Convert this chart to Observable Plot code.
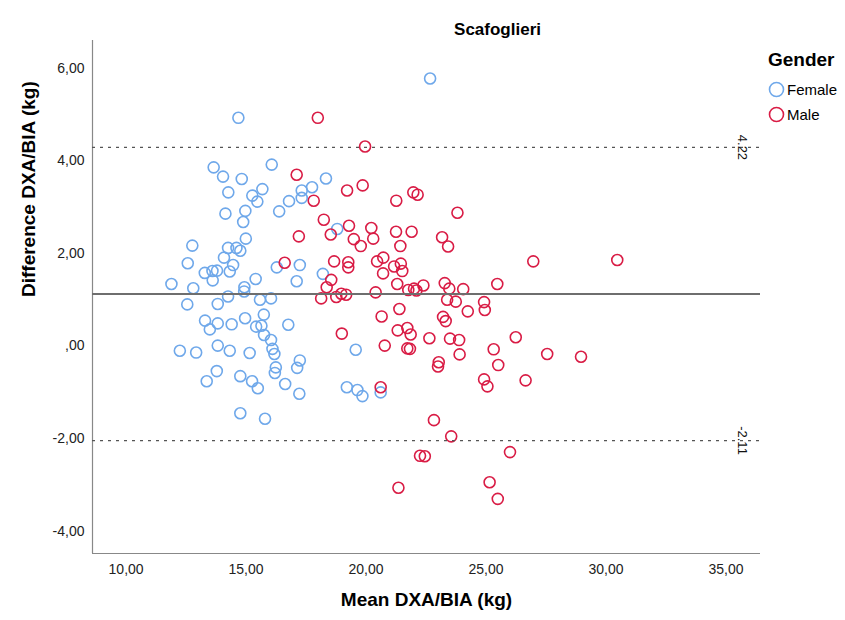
<!DOCTYPE html>
<html>
<head>
<meta charset="utf-8">
<script src="https://cdn.jsdelivr.net/npm/d3@7"></script>
<script src="https://cdn.jsdelivr.net/npm/@observablehq/plot@0.6"></script>
<style>
  body { margin: 0; background: #fff; }
  #wrap { position: relative; width: 845px; height: 620px; font-family: "Liberation Sans", Arial, sans-serif; }
  #legend { position: absolute; left: 768px; top: 49px; color: #000; }
  #legend .ttl { font-weight: bold; font-size: 19px; margin-bottom: 6px; }
  #legend .item { display: flex; align-items: center; font-size: 15px; height: 25px; }
  #legend svg { margin-right: 2px; }
</style>
</head>
<body>
<div id="wrap">
  <div id="chart"></div>
  <div id="legend"></div>
</div>
<script>
const title = "Scafoglieri";
const xLabel = "Mean DXA/BIA (kg)";
const yLabel = "Difference DXA/BIA (kg)";
const groups = ["Female", "Male"];
const groupColors = ["#6fa8ea", "#d91c45"];
const xTicks = [10, 15, 20, 25, 30, 35];
const yTicks = [-4, -2, 0, 2, 4, 6];
const meanDiff = [1.055];
const limitValues = [4.22, -2.11];
const limitLabels = ["4.22", "-2.11"];

const femaleMean = [14.68,13.65,16.07,14.04,14.82,18.33,15.68,14.26,15.26,15.47,17.32,17.75,17.32,16.79,14.14,14.97,16.38,14.88,18.80,14.99,12.76,14.25,14.60,14.76,14.08,14.46,12.57,13.28,13.60,13.79,14.32,13.61,11.89,12.80,15.40,16.28,17.24,17.11,18.20,14.93,14.92,14.25,15.58,16.04,12.55,13.82,15.74,13.29,13.82,13.49,14.40,14.96,15.42,15.64,15.75,16.76,16.04,16.10,16.18,12.24,12.92,13.82,14.32,15.15,19.57,17.24,17.13,16.24,16.20,13.78,13.36,14.76,15.25,15.49,16.63,17.22,19.20,19.64,19.85,14.76,15.79,20.61,22.67];
const femaleDiff = [4.86,3.79,3.85,3.59,3.54,3.55,3.32,3.25,3.18,3.05,3.29,3.36,3.13,3.06,2.79,2.85,2.84,2.61,2.46,2.25,2.10,2.05,2.05,1.99,1.84,1.68,1.72,1.51,1.55,1.56,1.54,1.35,1.27,1.18,1.38,1.63,1.68,1.33,1.49,1.20,1.11,1.00,0.93,0.96,0.83,0.84,0.61,0.48,0.42,0.29,0.40,0.53,0.35,0.37,0.17,0.39,0.06,-0.13,-0.24,-0.17,-0.21,-0.06,-0.17,-0.22,-0.15,-0.38,-0.54,-0.53,-0.65,-0.61,-0.83,-0.72,-0.83,-0.98,-0.89,-1.10,-0.96,-1.02,-1.15,-1.52,-1.64,-1.07,5.71];

const maleMean = [17.99,19.96,17.11,19.86,19.21,17.82,18.24,19.29,17.20,18.53,19.49,19.78,16.61,18.67,19.26,19.26,18.55,18.36,18.13,18.76,18.97,19.17,18.99,21.26,21.97,22.15,23.81,20.22,20.30,21.25,21.90,21.43,23.17,23.42,20.46,20.72,21.17,21.45,21.51,20.71,26.97,21.30,20.40,21.76,22.00,22.10,22.39,23.28,23.47,24.05,23.38,23.74,25.47,24.92,24.95,24.24,21.39,20.65,23.21,23.32,21.32,21.72,21.86,21.72,21.83,20.78,22.64,23.50,23.88,23.90,26.24,25.32,25.51,26.65,23.03,23.00,24.92,25.06,20.61,22.83,23.55,22.25,22.45,26.00,21.35,25.15,25.49,30.47,27.55,28.96];
const maleDiff = [4.86,4.24,3.63,3.40,3.29,3.07,2.66,2.53,2.30,2.34,2.24,2.09,1.73,1.76,1.74,1.63,1.36,1.20,0.96,0.99,1.06,1.04,0.20,3.07,3.25,3.20,2.81,2.48,2.25,2.40,2.40,2.09,2.28,2.08,1.76,1.84,1.65,1.71,1.55,1.50,1.76,1.27,1.09,1.14,1.17,1.13,1.24,1.29,1.17,1.16,0.93,0.89,1.27,0.88,0.71,0.68,0.73,0.57,0.56,0.47,0.27,0.32,0.18,-0.12,-0.13,-0.06,0.10,0.09,0.06,-0.25,0.12,-0.14,-0.48,-0.81,-0.42,-0.51,-0.79,-0.94,-0.96,-1.67,-2.02,-2.44,-2.45,-2.36,-3.13,-3.01,-3.37,1.79,-0.24,-0.30];

const points = [
  ...femaleMean.map((m, i) => ({mean: m, diff: femaleDiff[i], gender: groups[0]})),
  ...maleMean.map((m, i) => ({mean: m, diff: maleDiff[i], gender: groups[1]}))
];
const limits = limitValues.map((v, i) => ({v, label: limitLabels[i]}));

const fmt = d => {
  let s = Math.abs(d).toFixed(2).replace(".", ",");
  if (s.startsWith("0")) s = s.slice(1);
  return (d < 0 ? "-" : "") + s;
};

const xDomain = [8.6, 36.44];
const yDomain = [-4.55, 6.53];

const chart = Plot.plot({
  width: 845,
  height: 620,
  marginLeft: 92,
  marginRight: 85,
  marginTop: 40,
  marginBottom: 67,
  style: {fontFamily: "'Liberation Sans', Arial, sans-serif", background: "#fff"},
  x: {domain: xDomain},
  y: {domain: yDomain},
  color: {domain: groups, range: groupColors},
  marks: [
    Plot.axisX({ticks: xTicks, tickFormat: fmt, tickSize: 0, tickPadding: 11, fontSize: 14, label: null, color: "#222"}),
    Plot.axisY({ticks: yTicks, tickFormat: fmt, tickSize: 0, tickPadding: 8, fontSize: 14, label: null, color: "#222", dy: 3}),
    Plot.ruleX([xDomain[0]], {stroke: "#888", strokeWidth: 1.2}),
    Plot.ruleY([yDomain[0]], {stroke: "#888", strokeWidth: 1.2}),
    Plot.dot(points, {x: "mean", y: "diff", stroke: "gender", r: 5.5, strokeWidth: 1.6, fill: "none"}),
    Plot.ruleY(meanDiff, {stroke: "#6e6e6e", strokeWidth: 1.8}),
    Plot.ruleY(limits, {y: "v", stroke: "#555", strokeWidth: 1.3, strokeDasharray: "3,5"}),
    Plot.text(limits, {y: "v", text: "label", frameAnchor: "right", dx: -18, rotate: 90, textAnchor: "middle", fontSize: 13, fill: "#111"}),
    Plot.text([title], {frameAnchor: "top", dx: 71, dy: -18, fontSize: 17, fontWeight: "bold", fill: "#000"}),
    Plot.text([xLabel], {frameAnchor: "bottom", dy: 52, fontSize: 19, fontWeight: "bold", fill: "#000"}),
    Plot.text([yLabel], {frameAnchor: "left", dx: -64, rotate: -90, fontSize: 19, fontWeight: "bold", fill: "#000"})
  ]
});
document.getElementById("chart").appendChild(chart);

const legend = document.getElementById("legend");
legend.innerHTML = `<div class="ttl">Gender</div>` + groups.map((g, i) =>
  `<div class="item"><svg width="17" height="17"><circle cx="8.5" cy="8.5" r="7" fill="none" stroke="${groupColors[i]}" stroke-width="1.6"/></svg>${g}</div>`
).join("");
</script>
</body>
</html>
